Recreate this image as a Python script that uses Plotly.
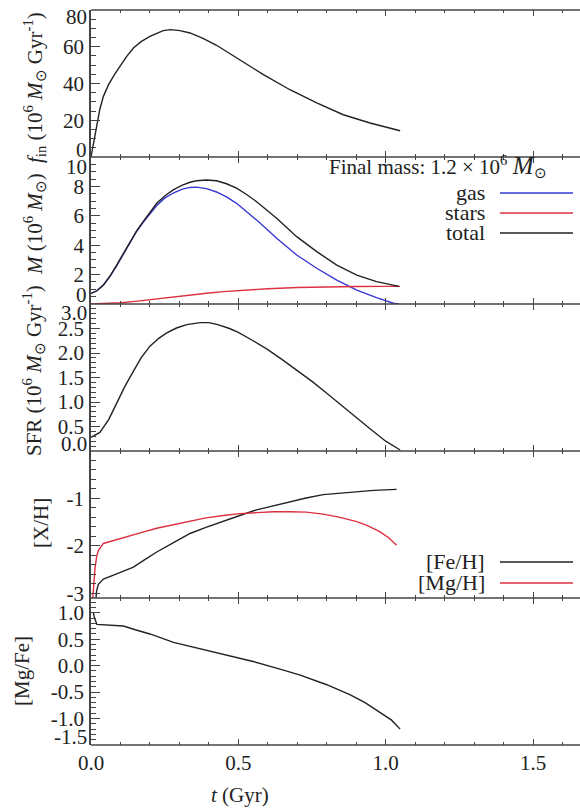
import plotly.graph_objects as go
from plotly.subplots import make_subplots

# ---- inflow rate f_in (10^6 Msun / Gyr) ----
t_fin = [0.0, 0.01, 0.019, 0.03, 0.042, 0.06, 0.08, 0.098, 0.12, 0.144, 0.17, 0.2,
         0.245, 0.27, 0.302, 0.336, 0.38, 0.426, 0.494, 0.585, 0.675, 0.766, 0.856,
         0.947, 1.049]
f_in = [0.0, 9.0, 17.0, 26.0, 33.0, 39.5, 45.0, 49.4, 54.5, 59.3, 62.8, 65.7,
        68.8, 69.3, 68.8, 67.5, 64.5, 60.8, 53.9, 44.8, 36.6, 29.4, 23.0,
        18.5, 14.3]

# ---- masses (10^6 Msun) ----
t_mass = [0.0, 0.02, 0.042, 0.065, 0.087, 0.11, 0.132, 0.155, 0.177, 0.2, 0.223, 0.25,
          0.279, 0.31, 0.336, 0.358, 0.392, 0.426, 0.46, 0.494, 0.528, 0.562, 0.596,
          0.63, 0.698, 0.766, 0.834, 0.902, 0.969, 1.026, 1.045]
m_gas = [0.72, 0.9, 1.29, 1.9, 2.6, 3.4, 4.2, 4.95, 5.55, 6.15, 6.7, 7.2,
         7.55, 7.82, 7.93, 7.95, 7.85, 7.62, 7.28, 6.85, 6.3, 5.71, 5.1,
         4.47, 3.33, 2.43, 1.63, 0.95, 0.43, 0.05, 0.0]
m_total = [0.72, 0.9, 1.29, 1.92, 2.65, 3.45, 4.24, 4.98, 5.6, 6.25, 6.85, 7.35,
           7.76, 8.08, 8.28, 8.38, 8.44, 8.38, 8.18, 7.88, 7.45, 6.96, 6.4,
           5.83, 4.58, 3.56, 2.65, 1.97, 1.52, 1.28, 1.2]
t_stars = [0.0, 0.05, 0.1, 0.15, 0.2, 0.25, 0.3, 0.35, 0.4, 0.45, 0.5, 0.6, 0.7,
           0.8, 0.9, 1.0, 1.049]
m_stars = [0.0, 0.02, 0.08, 0.18, 0.3, 0.42, 0.54, 0.65, 0.75, 0.84, 0.92, 1.04, 1.12,
           1.17, 1.19, 1.2, 1.2]

# ---- star formation rate (10^6 Msun / Gyr) ----
t_sfr = [0.0, 0.03, 0.06, 0.087, 0.115, 0.144, 0.17, 0.2, 0.23, 0.257, 0.29, 0.325,
         0.37, 0.4, 0.43, 0.47, 0.5, 0.55, 0.6, 0.65, 0.7, 0.75, 0.8, 0.85, 0.9,
         0.95, 1.0, 1.049]
sfr = [0.28, 0.38, 0.64, 0.99, 1.32, 1.63, 1.9, 2.14, 2.3, 2.41, 2.51, 2.58,
       2.62, 2.62, 2.58, 2.5, 2.42, 2.25, 2.07, 1.86, 1.64, 1.42, 1.18, 0.93, 0.68,
       0.44, 0.2, 0.02]

# ---- abundances ----
t_fe = [0.017, 0.019, 0.025, 0.042, 0.087, 0.144, 0.18, 0.223, 0.28, 0.336, 0.39,
        0.449, 0.505, 0.562, 0.62, 0.675, 0.73, 0.788, 0.845, 0.902, 0.96, 1.037]
fe_h = [-3.1, -2.95, -2.81, -2.70, -2.59, -2.45, -2.30, -2.13, -1.93, -1.74, -1.61,
        -1.49, -1.36, -1.24, -1.15, -1.06, -0.99, -0.92, -0.89, -0.86, -0.83, -0.81]
t_mg = [0.006, 0.01, 0.014, 0.02, 0.025, 0.042, 0.11, 0.17, 0.223, 0.28, 0.336, 0.39,
        0.449, 0.505, 0.562, 0.62, 0.675, 0.73, 0.788, 0.845, 0.902, 0.94, 0.98,
        1.01, 1.037]
mg_h = [-3.1, -2.8, -2.45, -2.2, -2.10, -1.95, -1.82, -1.72, -1.63, -1.55, -1.47, -1.41,
        -1.36, -1.32, -1.30, -1.28, -1.28, -1.29, -1.33, -1.40, -1.49, -1.58, -1.70,
        -1.83, -1.99]
t_mgfe = [0.008, 0.012, 0.02, 0.05, 0.08, 0.11, 0.15, 0.2, 0.28, 0.37, 0.45, 0.55,
          0.65, 0.71, 0.8, 0.88, 0.93, 0.98, 1.02, 1.049]
mg_fe = [1.0, 0.9, 0.78, 0.77, 0.76, 0.75, 0.68, 0.6, 0.44, 0.32, 0.22, 0.08,
         -0.08, -0.18, -0.36, -0.55, -0.7, -0.88, -1.03, -1.2]

# ---- styling ----
W, H = 580, 808
ML, MR, MT, MB = 91, 0, 10, 63
FONT = "Liberation Serif, Times New Roman, serif"
INK = "#222222"
AXIS = "#444444"
BLUE = "#3636d4"
RED = "#dc2f3f"
FS = 21
FS_LEG = 22

fig = make_subplots(rows=5, cols=1, shared_xaxes=True, vertical_spacing=0)

def line(x, y, color, row):
    fig.add_trace(go.Scatter(x=x, y=y, mode="lines", line=dict(color=color, width=1.4),
                             showlegend=False, hoverinfo="skip"), row=row, col=1)

line(t_fin, f_in, INK, 1)
line(t_mass, m_gas, BLUE, 2)
line(t_stars, m_stars, RED, 2)
line(t_mass, m_total, INK, 2)
line(t_sfr, sfr, INK, 3)
line(t_fe, fe_h, INK, 4)
line(t_mg, mg_h, RED, 4)
line(t_mgfe, mg_fe, INK, 5)

plot_w = W - ML - MR
plot_h = H - MT - MB
x_max = plot_w / 294.7

tick_font = dict(family=FONT, size=FS, color=INK)

for r in range(1, 6):
    fig.update_xaxes(range=[0, x_max], showline=False, mirror="ticks", ticks="inside",
                     tickcolor=AXIS, dtick=0.5, ticklen=6, tickwidth=1, tickformat=".1f",
                     minor=dict(ticks="inside", ticklen=3, dtick=0.1, tickcolor=AXIS),
                     showgrid=False, zeroline=False, tickfont=tick_font, row=r, col=1)
fig.update_xaxes(ticklabelstandoff=3, row=5, col=1)

# y-axes: (range, tick values, tick labels, minor step)
y_specs = [
    ([0, 80], [0, 20, 40, 60, 80], ["", "20", "40", "60", ""], 5),
    ([0, 10], [0, 2, 4, 6, 8, 10], ["", "2", "4", "6", "8", ""], 0.5),
    ([0, 3], [0, 0.5, 1, 1.5, 2, 2.5, 3], ["", "0.5", "1.0", "1.5", "2.0", "2.5", ""], 0.1),
    ([-3.1, 0], [-3, -2, -1], ["-3", "-2", "-1"], 0.2),
    ([-1.5, 1.28], [-1.5, -1, -0.5, 0, 0.5, 1.0], ["", "-1.0", "-0.5", "0.0", "0.5", "1.0"], 0.1),
]
for r, (rng, tv, tt, mdt) in enumerate(y_specs, start=1):
    fig.update_yaxes(range=rng, tickvals=tv, ticktext=tt, showline=True, linecolor=AXIS,
                     linewidth=1.5, ticks="inside", tickcolor=AXIS, ticklen=9, tickwidth=1,
                     ticklabelstandoff=1, showgrid=False, zeroline=False, tickfont=tick_font,
                     minor=dict(ticks="inside", ticklen=5, dtick=mdt, tickcolor=AXIS),
                     automargin=False, row=r, col=1)

def px_x(px):
    return (px - ML) / plot_w

def px_y(py):
    return 1 - (py - MT) / plot_h

annotations = []

# edge labels nudged inside their panel so neighbouring panels don't collide
edge_labels = [
    ("y", 0, "0", 7), ("y", 80, "80", -7),
    ("y2", 0, "0", 9), ("y2", 10, "10", -10),
    ("y3", 0, "0.0", 7), ("y3", 3, "3.0", -9),
    ("y5", -1.5, "-1.5", 8),
]
for yref, val, txt, shift in edge_labels:
    annotations.append(dict(xref="paper", x=0, xanchor="right", xshift=-2, yref=yref, y=val,
                            yanchor="middle", yshift=shift, text=txt, showarrow=False,
                            font=tick_font))

# rotated axis titles: (text, centre x px, centre y px)
y_titles = [
    ("<i>f</i><sub>in</sub> (10<sup>6</sup> <i>M</i><sub>⊙</sub> Gyr<sup>-1</sup>)", 35, 88),
    ("<i>M</i> (10<sup>6</sup> <i>M</i><sub>⊙</sub>)", 34, 224),
    ("SFR (10<sup>6</sup> <i>M</i><sub>⊙</sub> Gyr<sup>-1</sup>)", 33, 371),
    ("[X/H]", 41, 523),
    ("[Mg/Fe]", 22, 671),
]
for txt, cx, cy in y_titles:
    annotations.append(dict(xref="paper", yref="paper", x=px_x(cx), y=px_y(cy),
                            xanchor="center", yanchor="middle", textangle=-90,
                            showarrow=False, text=txt, font=tick_font))

annotations.append(dict(xref="paper", yref="paper", x=px_x(240), y=px_y(795),
                        xanchor="center", yanchor="middle", showarrow=False,
                        text="<i>t</i> (Gyr)", font=tick_font))

legend_font = dict(family=FONT, size=FS_LEG, color=INK)
final_mass = m_stars[-1]
annotations.append(dict(xref="paper", yref="paper", x=px_x(549), y=px_y(167), xanchor="right",
                        yanchor="middle", showarrow=False, font=dict(family=FONT, size=FS, color=INK),
                        text=(f"Final mass: {final_mass:.1f} × 10<sup>6</sup> "
                              "<span style='font-size:25px'><i>M</i></span><sub>⊙</sub>")))

shapes = []
legend_rows = [("gas", BLUE, 193), ("stars", RED, 213), ("total", INK, 233),
               ("[Fe/H]", INK, 562), ("[Mg/H]", RED, 583)]
for label, color, py in legend_rows:
    annotations.append(dict(xref="paper", yref="paper", x=px_x(487), y=px_y(py - 1),
                            xanchor="right", yanchor="middle", showarrow=False,
                            font=legend_font, text=label))
    shapes.append(dict(type="line", xref="paper", yref="paper", x0=px_x(500), x1=px_x(573),
                       y0=px_y(py), y1=px_y(py), line=dict(color=color, width=1.5)))

# panel frames: one horizontal rule per panel boundary
for k in range(6):
    yb = k / 5
    shapes.append(dict(type="line", xref="paper", yref="paper", x0=0, x1=1, y0=yb, y1=yb,
                       layer="above", line=dict(color=AXIS, width=1.6)))

fig.update_layout(width=W, height=H, margin=dict(l=ML, r=MR, t=MT, b=MB),
                  plot_bgcolor="white", paper_bgcolor="white",
                  font=dict(family=FONT, size=FS, color=INK),
                  annotations=annotations, shapes=shapes, showlegend=False)

fig.write_html("out.html")
